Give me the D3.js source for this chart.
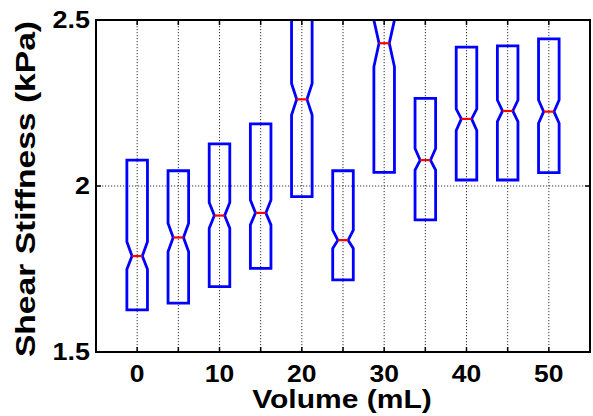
<!DOCTYPE html>
<html>
  <head>
    <meta charset="utf-8">
    <title>Shear Stiffness Boxplot</title>
    <style>
      body { margin: 0; background: #fff; }
      .chart { font-family: "Liberation Sans", Arial, sans-serif; font-weight: bold; }
      .grid line { stroke: #333; stroke-width: 1; stroke-dasharray: 1.2,1.8; }
      .frame { fill: none; stroke: #000; stroke-width: 2; }
      .box { fill: none; stroke: #0000ff; stroke-width: 2.8; stroke-linejoin: miter; }
      .median { stroke: #ff0000; stroke-width: 2.2; }
    </style>
  </head>
  <body>
    <div class="chart"></div>
    <script src="https://d3js.org/d3.v7.min.js"></script>
    <script>
      // Volumes (mL), one box per volume
      var volumes = [0, 5, 10, 15, 20, 25, 30, 35, 40, 45, 50];
      var q1      = [1.627, 1.647, 1.697, 1.752, 1.968, 1.717, 2.041, 1.898, 2.018, 2.018, 2.040];
      var q3      = [2.078, 2.046, 2.127, 2.187, 2.600, 2.046, 2.620, 2.264, 2.418, 2.422, 2.443];
      var medians = [1.789, 1.845, 1.911, 1.919, 2.261, 1.837, 2.430, 2.078, 2.202, 2.226, 2.224];
      var notchLo = [1.749, 1.802, 1.873, 1.883, 2.214, 1.812, 2.359, 2.048, 2.167, 2.194, 2.189];
      var notchHi = [1.832, 1.888, 1.950, 1.958, 2.309, 1.867, 2.500, 2.113, 2.232, 2.259, 2.259];
      var xTickLabels = ["0", "10", "20", "30", "40", "50"];
      var yTicks = [1.5, 2, 2.5];

      var W = 593, H = 416;
      var margin = {top: 20, right: 3, bottom: 64, left: 96};
      var width = W - margin.left - margin.right;
      var height = H - margin.top - margin.bottom;

      var svg = d3.select(".chart").append("svg")
        .attr("width", W)
        .attr("height", H);

      var g = svg.append("g")
        .attr("transform", "translate(" + margin.left + "," + margin.top + ")");

      // positions 1..11, xlim [0, 12]
      var x = d3.scaleLinear().domain([0, volumes.length + 1]).range([0, width]);
      var y = d3.scaleLinear().domain([1.5, 2.5]).range([height, 0]);
      var pos = volumes.map(function(d, i) { return i + 1; });

      g.append("defs").append("clipPath").attr("id", "clip")
        .append("rect").attr("width", width).attr("height", height);

      // grid
      var grid = g.append("g").attr("class", "grid");
      grid.selectAll(".vg").data(pos).enter().append("line")
        .attr("x1", function(d) { return x(d); })
        .attr("x2", function(d) { return x(d); })
        .attr("y1", 0).attr("y2", height);
      grid.selectAll(".hg").data(yTicks).enter().append("line")
        .attr("x1", 0).attr("x2", width)
        .attr("y1", function(d) { return y(d); })
        .attr("y2", function(d) { return y(d); });

      // notched boxes
      var bw = 0.5;
      var boxes = g.append("g").attr("clip-path", "url(#clip)");
      var line = d3.line();
      pos.forEach(function(p, i) {
        var l = x(p - bw / 2), r = x(p + bw / 2);
        var nl = x(p - bw / 4), nr = x(p + bw / 4);
        var pts = [
          [l, y(q1[i])], [l, y(notchLo[i])], [nl, y(medians[i])], [l, y(notchHi[i])],
          [l, y(q3[i])], [r, y(q3[i])], [r, y(notchHi[i])], [nr, y(medians[i])],
          [r, y(notchLo[i])], [r, y(q1[i])]
        ];
        boxes.append("path").attr("class", "box").attr("d", line(pts) + "Z");
        boxes.append("line").attr("class", "median")
          .attr("x1", nl).attr("x2", nr)
          .attr("y1", y(medians[i])).attr("y2", y(medians[i]));
      });

      // ticks (inward, all four sides)
      var tk = g.append("g").attr("stroke", "#000").attr("stroke-width", 1.5);
      pos.forEach(function(p) {
        tk.append("line").attr("x1", x(p)).attr("x2", x(p)).attr("y1", height).attr("y2", height - 5);
        tk.append("line").attr("x1", x(p)).attr("x2", x(p)).attr("y1", 0).attr("y2", 5);
      });
      yTicks.forEach(function(t) {
        tk.append("line").attr("x1", 0).attr("x2", 5).attr("y1", y(t)).attr("y2", y(t));
        tk.append("line").attr("x1", width).attr("x2", width - 5).attr("y1", y(t)).attr("y2", y(t));
      });

      g.append("rect").attr("class", "frame").attr("width", width).attr("height", height);

      function stretch(sel, k) {
        sel.each(function() {
          var len = this.getComputedTextLength();
          d3.select(this).attr("textLength", len * k).attr("lengthAdjust", "spacingAndGlyphs");
        });
      }

      // x tick labels at 0,10,...,50 (every other position)
      var xl = g.selectAll(".xl").data(xTickLabels).enter().append("text")
        .attr("x", function(d, i) { return x(1 + i * 2); })
        .attr("y", height + 30)
        .attr("text-anchor", "middle")
        .attr("font-size", 23)
        .text(function(d) { return d; });
      stretch(xl, 1.15);

      var yl = g.selectAll(".yl").data(yTicks).enter().append("text")
        .attr("x", -6)
        .attr("y", function(d) { return y(d) + 8; })
        .attr("text-anchor", "end")
        .attr("font-size", 23)
        .text(function(d) { return d; });
      stretch(yl, 1.17);

      var xt = svg.append("text")
        .attr("x", 342).attr("y", 408)
        .attr("text-anchor", "middle")
        .attr("font-size", 25)
        .text("Volume (mL)");
      stretch(xt, 1.2);

      var yt = svg.append("text")
        .attr("transform", "translate(35,189) rotate(-90)")
        .attr("text-anchor", "middle")
        .attr("font-size", 28)
        .text("Shear Stiffness (kPa)");
      stretch(yt, 1.2);
    </script>
  </body>
</html>
